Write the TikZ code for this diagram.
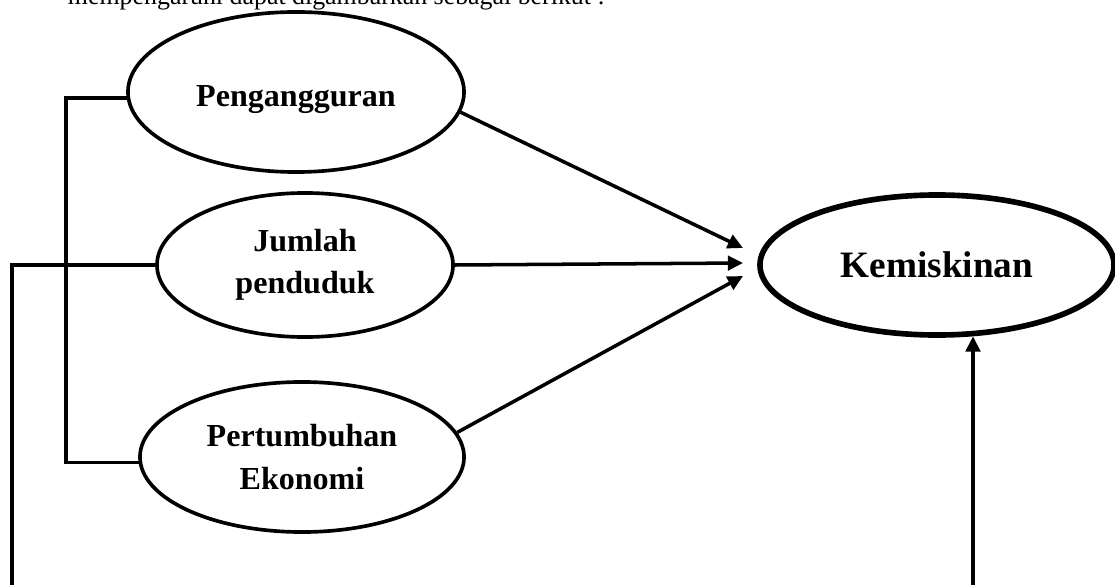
\documentclass[tikz,border=0pt]{standalone}
\usepackage{fontspec}
\setmainfont{Liberation Serif}
\usepackage{tikz}
\usetikzlibrary{calc}
\usetikzlibrary{arrows.meta}
\usetikzlibrary{shapes.geometric}
\tikzset{
  myarrow/.style={
    draw=black,
    line width=2.5pt,
    -{Triangle[length=3.8mm,width=3.6mm]},
  },
  myline/.style={
    draw=black,
    line width=2.5pt,
  },
  myellipse/.style={
    draw=black,
    shape=ellipse,
    line width=2.6pt,
    inner sep=0pt,
    align=center,
    font=\fontsize{22.8}{30}\selectfont\bfseries
  },
  mybigellipse/.style={
    myellipse,
    line width=4pt,
    font=\fontsize{26.5}{30}\selectfont\bfseries
  }
}

\begin{document}
\begin{tikzpicture}[x=0.025cm, y=-0.025cm]
    \useasboundingbox (0, 0) rectangle (1115, 584);
    \node [anchor=base west, font=\fontsize{18.4}{22}\selectfont] (intro) at (63, 5) {mempengaruhi dapat digambarkan sebagai berikut :};

    \node [myellipse, minimum width=8.4cm, minimum height=4cm, text height=25pt, text depth=5pt] (Peng) at (296, 92) {Pengangguran};
    \node [myellipse, minimum width=7.4cm, minimum height=3.6cm] (Jumlah) at (305, 265) {Jumlah\\penduduk};
    \node [myellipse, minimum width=8.1cm, minimum height=3.75cm] (Pert) at (302, 457) {Pertumbuhan\\Ekonomi};
    \node [mybigellipse, minimum width=8.85cm, minimum height=3.5cm] (Kemis) at (937, 265) {Kemiskinan};

    \coordinate (tipA) at (743, 248);
    \coordinate (tipB) at (743, 263);
    \coordinate (tipC) at (743, 276);
    \draw [myarrow] (Peng.-7) -- (tipA);
    \draw [myarrow] (Jumlah.east) -- (tipB);
    \draw [myarrow] (Pert.9) -- (tipC);

    \coordinate (bx) at (66, 0);
    \draw [myline] (Peng.182) -- (Peng.182 -| bx) -- (Pert.182 -| bx) -- (Pert.182);

    \coordinate (lx) at (12, 265);
    \coordinate (lxBot) at (12, 590);
    \draw [myline] (Jumlah.west) -- (lx) -- (lxBot);

    \coordinate (rxBot) at (973, 590);
    \draw [myarrow] (rxBot) -- (rxBot |- Kemis.-63);

  \end{tikzpicture}
\end{document}
